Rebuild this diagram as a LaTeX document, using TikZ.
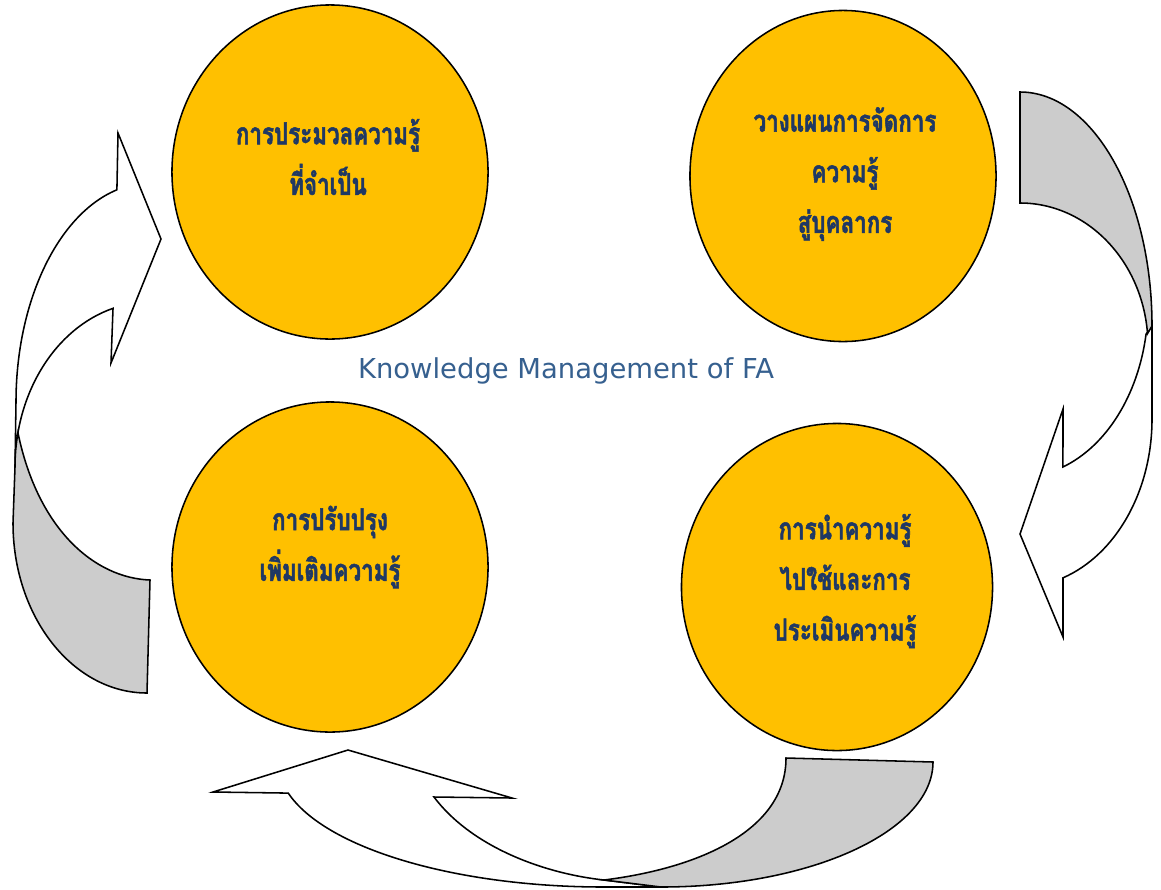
\documentclass[tikz,border=0pt]{standalone}
\usepackage{fontspec}
\usetikzlibrary{shapes.geometric}
\newfontfamily\thaifont[Script=Thai,FakeStretch=0.74,BoldFeatures={FakeBold=1.7}]{Loma}
\newfontfamily\titlefont{DejaVu Sans}
\definecolor{stagefill}{HTML}{FFC000}
\definecolor{backgray}{HTML}{CCCCCC}
\definecolor{thainavy}{HTML}{1F3864}
\definecolor{titleblue}{HTML}{36608F}
\begin{document}
\begin{tikzpicture}[x=0.025cm,y=-0.025cm,
  arrowface/.style={draw=black,line width=1.1pt,fill=white,line join=miter},
  arrowback/.style={draw=black,line width=1.1pt,fill=backgray,line join=miter},
  stage/.style={ellipse,draw=black,line width=1.1pt,fill=stagefill,inner sep=0pt,outer sep=0pt},
  stagetext/.style={align=center,text=thainavy,font={\thaifont\bfseries\fontsize{21.5}{36}\selectfont}},
  titletext/.style={text=titleblue,font={\titlefont\fontsize{19.5}{22}\selectfont}}]
\useasboundingbox (0,0) rectangle (1161,889);

% left curved arrow (up, pointing right)
\draw[arrowface] ([shift={(150,402)}]255.7:134 and 219)
  arc[start angle=255.7,end angle=180,x radius=134,y radius=219]
  -- (15,467)
  arc[start angle=180,end angle=254.1,x radius=135,y radius=165]
  -- (111,363) -- (161,239) -- (118,133) -- cycle;
\draw[arrowback] ([shift={(150,467)}]192:135 and 165)
  .. controls (38,530) and (95,578) .. (150,580)
  -- (147,693)
  arc[start angle=90,end angle=180,x radius=134,y radius=170]
  -- (15,467)
  arc[start angle=180,end angle=192,x radius=135,y radius=165] -- cycle;

% right curved arrow (down, pointing left)
\draw[arrowface] (1152,326) -- (1152,419)
  arc[start angle=0,end angle=71,x radius=132,y radius=168]
  -- (1063,637) -- (1020,534) -- (1063,409)
  -- ([shift={(1020,304)}]70.4:128 and 173)
  arc[start angle=70.4,end angle=10,x radius=128,y radius=173] -- cycle;
\draw[arrowback] (1020,92)
  arc[start angle=270,end angle=360,x radius=132,y radius=234]
  -- ([shift={(1020,346)}]-5:128 and 143)
  arc[start angle=-5,end angle=-90,x radius=128,y radius=143] -- cycle;

% bottom curved arrow (left, pointing up)
\draw[arrowface] ([shift={(604,762)}]165.6:326 and 125)
  arc[start angle=165.6,end angle=90,x radius=326,y radius=125]
  -- (661,887) -- (604,880)
  .. controls (540,873) and (470,845) .. (434,797)
  -- (512,798) -- (348,750) -- (213,792) -- cycle;
\draw[arrowback] (786,758) -- (933,762)
  arc[start angle=0,end angle=90,x radius=272,y radius=125]
  -- (604,880)
  .. controls (700,868) and (786,830) .. (786,758) -- cycle;

% stages
\node[stage,minimum width=7.9cm,minimum height=8.35cm] (tl) at (330,172) {};
\node[stage,minimum width=7.65cm,minimum height=8.275cm] (tr) at (843,176) {};
\node[stage,minimum width=7.9cm,minimum height=8.25cm] (bl) at (330,567) {};
\node[stage,minimum width=7.775cm,minimum height=8.175cm] (br) at (837,587) {};

\node[stagetext] (tltext) at (328,157) {การประมวลความรู้\\ที่จำเป็น};
\node[stagetext] (trtext) at (845,174) {วางแผนการจัดการ\\ความรู้\\สู่บุคลากร};
\node[stagetext] (bltext) at (330,547) {การปรับปรุง\\เพิ่มเติมความรู้};
\node[stagetext] (brtext) at (845,581) {การนำความรู้\\ไปใช้และการ\\ประเมินความรู้};

\node[titletext] (title) at (566,371) {Knowledge Management of FA};
\end{tikzpicture}
\end{document}
